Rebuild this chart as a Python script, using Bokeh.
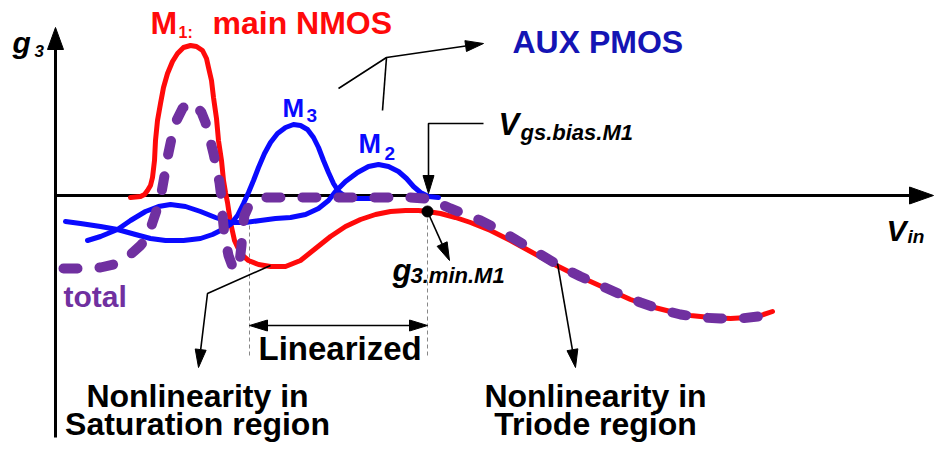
import math
from bokeh.plotting import figure
from bokeh.models import Range1d, Label
from bokeh.embed import file_html
from bokeh.resources import INLINE

# ---- curve data: x = V_in (px-like units from origin), y = g3 ----
m1_vin = [75, 85, 89, 92, 95, 97, 99, 100, 102, 105, 108, 112, 117, 122, 128, 135, 141, 147,
          151, 153, 156, 158, 161, 163, 166, 168, 170, 172, 175, 179, 185, 193, 203, 215, 230,
          245, 260, 275, 290, 305, 320, 335, 350, 363, 372, 385, 400, 415, 435, 455, 475, 495,
          515, 535, 555, 575, 595, 615, 635, 655, 675, 692, 705, 717]
m1_g3 = [-2, -1, 1, 5, 10, 18, 35, 55, 75, 92, 108, 122, 134, 142, 148, 150, 149, 145,
         137, 128, 115, 98, 77, 55, 35, 15, 3, -7, -27, -45, -58, -65, -69, -71, -71,
         -65, -53, -41, -31, -24, -19, -16, -15, -15, -16, -18, -22, -27, -35, -45, -56, -67,
         -77, -86, -95, -104, -111, -116, -120, -122, -123, -122, -120, -116]

m3_vin = [10, 25, 45, 62, 80, 95, 110, 128, 145, 157, 167, 175, 182, 188, 193, 198, 203, 209,
          215, 222, 230, 238, 245, 252, 258, 263, 268, 273, 278, 283, 290, 300, 315, 335]
m3_g3 = [-26, -28, -31, -34, -39, -43, -45, -45, -43, -39, -34, -29, -20, -8, 3, 15, 28, 42,
         53, 62, 68, 71, 70, 66, 58, 48, 35, 23, 12, 4, -1, -3, -3, -2]

m2_vin = [32, 45, 62, 75, 90, 103, 115, 130, 145, 160, 175, 190, 205, 220, 235, 250, 263, 273,
          280, 290, 302, 313, 323, 333, 343, 351, 358, 365, 373, 383]
m2_g3 = [-45, -41, -34, -25, -16, -11, -9, -11, -16, -22, -27, -27, -25, -23, -22, -19, -13, -5,
         4, 14, 23, 29, 31, 29, 24, 17, 9, 3, -1, -2]

total_vin = [8, 28, 45, 62, 75, 85, 92, 97, 102, 106, 109, 112, 116, 121, 127, 133, 140, 146,
             150, 154, 158, 161, 164, 166, 167, 169, 173, 177, 181, 184, 186, 187, 189, 193,
             200, 210, 235, 265, 295, 325, 355, 370, 382, 395, 410, 425, 445, 465, 485, 505,
             525, 545, 565, 585, 605, 625, 645, 665, 685, 703]
total_g3 = [-73, -73, -72, -68, -59, -50, -42, -27, -12, 3, 20, 38, 57, 75, 87, 93, 91, 83,
            73, 58, 42, 28, 13, -3, -20, -40, -60, -71, -75, -67, -50, -33, -20, -11,
            -5, -2, -2, -2, -2, -2, -2, -3, -7, -13, -19, -25, -35, -47, -59, -71,
            -81, -90, -99, -107, -114, -119, -122, -123, -123, -121]

# operating point of M1 (minimum |g3| at the bias voltage)
vgs_bias = 372
g3_min = -16
# start of the linearized range
lin_start = 194

RED = "#ff0a0a"
BLUE = "#0a0aff"
PURPLE = "#7030a0"
FONT = "Liberation Sans"

p = figure(width=934, height=449, output_backend="svg", toolbar_location=None,
           x_range=Range1d(-55, 879), y_range=Range1d(-254, 195),
           x_axis_type=None, y_axis_type=None, min_border=0)
p.outline_line_color = None
p.background_fill_color = "white"


def arrow(xs, ys, color="black", width=1.6, hl=18, hw=11, both=False):
    """Polyline ending in a filled triangular head (1 data unit = 1 px)."""
    xs = list(xs)
    ys = list(ys)

    def head(tx, ty, px_, py_):
        dx, dy = tx - px_, ty - py_
        n = math.hypot(dx, dy)
        ux, uy = dx / n, dy / n
        bx, by = tx - ux * hl, ty - uy * hl
        nx, ny = -uy, ux
        p.patch([tx, bx + nx * hw / 2, bx - nx * hw / 2],
                [ty, by + ny * hw / 2, by - ny * hw / 2],
                fill_color=color, line_color=color, line_width=1)
        return bx, by

    bx, by = head(xs[-1], ys[-1], xs[-2], ys[-2])
    xs[-1], ys[-1] = bx, by
    if both:
        sx, sy = head(xs[0], ys[0], xs[1], ys[1])
        xs[0], ys[0] = sx, sy
    p.line(xs, ys, line_color=color, line_width=width)


# axes
arrow([0, 0], [-242, 168], width=3, hl=22, hw=16)
arrow([0, 878], [0, 0], width=3, hl=24, hw=17)

# guide lines for the linearized range
p.line([lin_start, lin_start], [-30, -160], line_color="#888888", line_width=1, line_dash="4 3")
p.line([vgs_bias, vgs_bias], [g3_min, -160], line_color="#888888", line_width=1, line_dash="4 3")

# curves
p.line(m1_vin, m1_g3, line_color=RED, line_width=5, line_join="round", line_cap="round")
p.line(m3_vin, m3_g3, line_color=BLUE, line_width=5, line_join="round", line_cap="round")
p.line(m2_vin, m2_g3, line_color=BLUE, line_width=5, line_join="round", line_cap="round")
p.line(total_vin, total_g3, line_color=PURPLE, line_width=10, line_dash="14 22",
       line_join="round", line_cap="round")

p.scatter([vgs_bias], [g3_min], size=11, color="black")

# annotation arrows
arrow([283, 331, 428], [107, 138, 152])
p.line([327, 331], [85, 138], line_color="black", line_width=1.6)
arrow([428, 373, 373], [72, 72, 2])
arrow([vgs_bias, 394], [g3_min, -65])
arrow([215, 152, 143], [-70, -98, -172])
arrow([lin_start, vgs_bias], [-130, -130], both=True)
arrow([502, 520], [-68, -172])


def label(x, base, text, size, color="black", style="bold", align="left"):
    # base: wanted baseline height; the text box sits a little low, so lift it
    p.add_layout(Label(x=x, y=base + 0.35 * size, text=text, text_font=FONT,
                       text_font_size=f"{size}px", text_font_style=style,
                       text_color=color, text_align=align, text_baseline="alphabetic"))


label(-43, 143, "g", 30, style="bold italic")
label(-21, 139, "3", 17, style="bold italic")

label(95, 161, "M", 32, RED)
label(123, 157, "1:", 16, RED)
label(157, 161, "main NMOS", 32, RED)

label(457, 142, "AUX PMOS", 32, "#1414b4")

label(227, 78, "M", 26, BLUE)
label(251, 73, "3", 19, BLUE)
label(303, 42, "M", 27, BLUE)
label(329, 35, "2", 19, BLUE)

label(443, 60, "V", 31, style="bold italic")
label(465, 55, "gs.bias.M1", 22, style="bold italic")

label(337, -86, "g", 31, style="bold italic")
label(355, -88, "3.min.M1", 22, style="bold italic")

label(831, -45, "V", 30, style="bold italic")
label(852, -48, "in", 19, style="bold italic")

label(8, -111, "total", 30, PURPLE)
label(203, -165, "Linearized", 33)
label(142, -212, "Nonlinearity in", 32, align="center")
label(142, -240, "Saturation region", 32, align="center")
label(540, -212, "Nonlinearity in", 32, align="center")
label(540, -240, "Triode region", 32, align="center")

open("out.html", "w").write(file_html(p, INLINE))
